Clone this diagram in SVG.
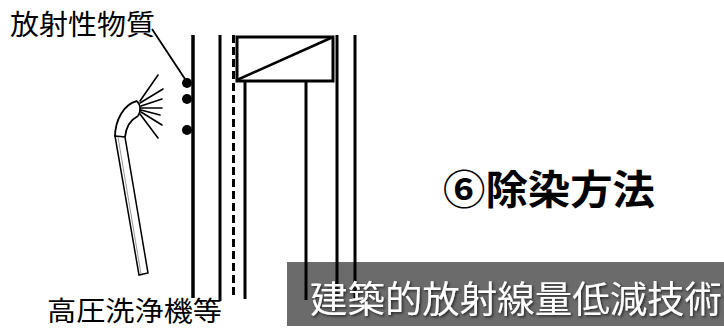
<svg xmlns="http://www.w3.org/2000/svg" width="724" height="328" viewBox="0 0 724 328">
  <defs>
    <style>
      .jp { font-family: "Noto Sans CJK JP", "Noto Sans", sans-serif; }
      .lbl { font-size: 28px; fill: #000; }
      .ln { stroke: #000; fill: none; stroke-linecap: butt; }
      .spray { stroke: #000; stroke-width: 1.6; fill: none; stroke-linecap: round; }
      .dot { fill: #000; }
    </style>
    <filter id="shadow" x="-5%" y="-20%" width="110%" height="140%">
      <feDropShadow dx="1.5" dy="1.5" stdDeviation="1" flood-color="#222" flood-opacity="0.9"/>
    </filter>
  </defs>

  <rect width="724" height="328" fill="#fff"/>

  <!-- banner background -->
  <rect x="287" y="262" width="437" height="64" fill="#6b6b6b"/>

  <!-- wall and structure lines -->
  <g id="walls">
    <line class="ln" x1="193" y1="35" x2="193" y2="298" stroke-width="3.5"/>
    <line class="ln" x1="220" y1="35" x2="220" y2="301" stroke-width="3"/>
    <line class="ln" x1="233.5" y1="35" x2="233.5" y2="299" stroke-width="3" stroke-dasharray="8 4"/>
    <line class="ln" x1="337" y1="35" x2="337" y2="298" stroke-width="3"/>
    <line class="ln" x1="355" y1="35" x2="355" y2="298" stroke-width="3"/>
  </g>

  <!-- panel with diagonal and its supports -->
  <g id="panel">
    <rect x="237" y="37" width="96" height="44" fill="none" stroke="#000" stroke-width="3"/>
    <line class="ln" x1="237" y1="80" x2="333" y2="37" stroke-width="2.5"/>
    <line class="ln" x1="245" y1="81" x2="245" y2="299" stroke-width="3"/>
    <line class="ln" x1="306" y1="81" x2="306" y2="300" stroke-width="3"/>
  </g>

  <!-- deposits on the wall surface -->
  <g id="particles">
    <circle class="dot" cx="187" cy="83" r="5"/>
    <circle class="dot" cx="187" cy="99" r="5"/>
    <circle class="dot" cx="187" cy="130" r="5"/>
  </g>

  <!-- pressure washer lance -->
  <g id="washer">
    <polygon points="115,136 125,137 148,273 139,275" fill="#fff" stroke="#000" stroke-width="1.5"/>
    <line x1="118" y1="137" x2="141" y2="274" stroke="#999" stroke-width="1"/>
    <path d="M115,137 C115,120 124,104 137,101" class="ln" stroke-width="1.8"/>
    <path d="M125,137 C126,128 130,120 138,116" class="ln" stroke-width="1.8"/>
    <path d="M137,101 Q143,108 138,116" class="ln" stroke-width="1.8"/>
    <line class="spray" x1="140" y1="101" x2="158" y2="75"/>
    <line class="spray" x1="140" y1="103" x2="163" y2="89"/>
    <line class="spray" x1="141" y1="106" x2="162" y2="99"/>
    <line class="spray" x1="141" y1="108" x2="162" y2="108"/>
    <line class="spray" x1="141" y1="110" x2="160" y2="115"/>
    <line class="spray" x1="141" y1="112" x2="162" y2="125"/>
    <line class="spray" x1="140" y1="114" x2="158" y2="138"/>
  </g>

  <!-- labels -->
  <g id="label-material">
    <text class="jp lbl" x="10" y="35" textLength="145" lengthAdjust="spacingAndGlyphs">放射性物質</text>
    <line class="ln" x1="152" y1="29" x2="185" y2="79" stroke-width="1.8"/>
  </g>
  <g id="label-washer">
    <text class="jp" x="47" y="321" font-size="27" textLength="175" lengthAdjust="spacingAndGlyphs">高圧洗浄機等</text>
  </g>
  <g id="title">
    <text class="jp" x="443" y="204" font-size="40" font-weight="bold" textLength="212" lengthAdjust="spacingAndGlyphs">⑥除染方法</text>
  </g>
  <g id="banner">
    <text class="jp" x="310" y="313" font-size="37" fill="#fff" filter="url(#shadow)" textLength="412" lengthAdjust="spacingAndGlyphs">建築的放射線量低減技術</text>
  </g>
</svg>
